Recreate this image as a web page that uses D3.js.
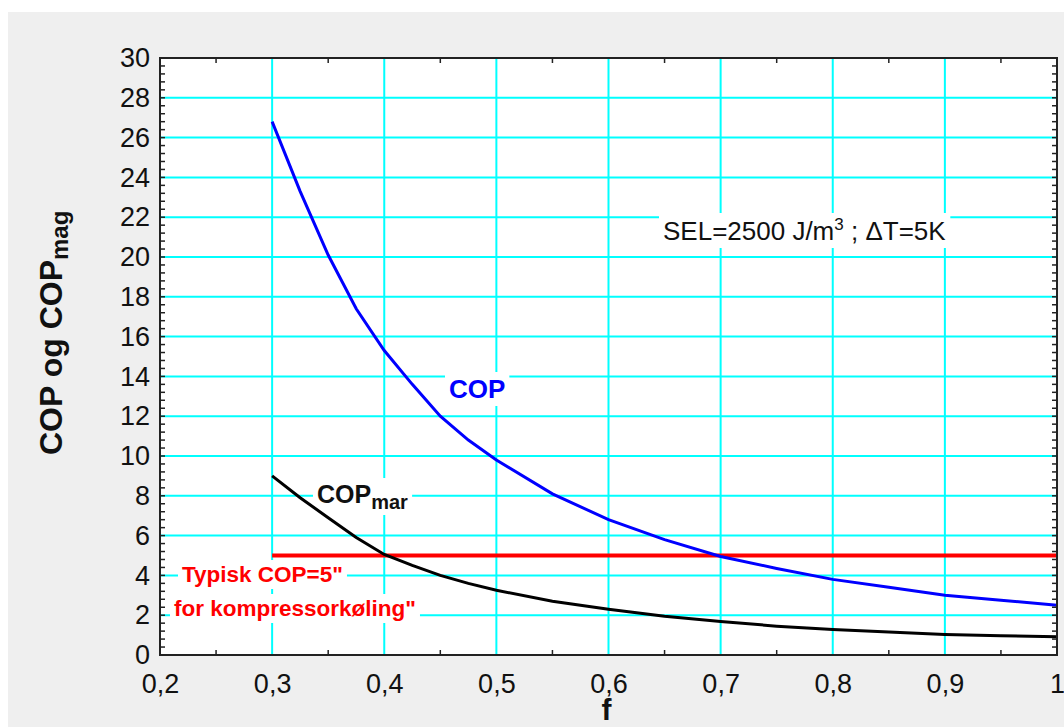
<!DOCTYPE html>
<html><head><meta charset="utf-8">
<script src="https://cdn.jsdelivr.net/npm/d3@7"></script>
<style>
html,body{margin:0;padding:0;background:#fff;}
svg{display:block;font-family:"Liberation Sans",Arial,sans-serif;}
</style></head>
<body>
<svg id="chart" width="1064" height="727"></svg>
<script>
// ---- data ----
const fValues   = [0.30,0.325,0.35,0.375,0.40,0.425,0.45,0.475,0.50,0.55,0.60,0.65,0.70,0.75,0.80,0.85,0.90,0.95,1.00];
const copValues = [26.8,23.3,20.1,17.4,15.3,13.6,12.0,10.8,9.8,8.1,6.8,5.8,4.95,4.35,3.8,3.4,3.0,2.75,2.5];
const copMarValues = [9.0,7.9,6.9,5.9,5.05,4.5,4.0,3.6,3.25,2.7,2.3,1.95,1.68,1.45,1.28,1.15,1.03,0.97,0.92];
const typicalCOP = 5;
const typicalRange = [0.3, 1.0];
const xTicks = [0.2,0.3,0.4,0.5,0.6,0.7,0.8,0.9,1.0];
const xTickLabels = ["0,2","0,3","0,4","0,5","0,6","0,7","0,8","0,9","1"];
const yTicks = [0,2,4,6,8,10,12,14,16,18,20,22,24,26,28,30];

// ---- layout ----
const W = 1064, H = 727;
const L = 160, R = 1057, T = 58, B = 655;
const svg = d3.select("#chart");

const x = d3.scaleLinear().domain([0.2, 1.0]).range([L, R]);
const y = d3.scaleLinear().domain([0, 30]).range([B, T]);

// background
svg.append("rect").attr("x",0).attr("y",0).attr("width",W).attr("height",H).attr("fill","#fff");
svg.append("rect").attr("x",8).attr("y",12).attr("width",W-8).attr("height",H-12).attr("fill","#efefef");
svg.append("rect").attr("x",L).attr("y",T).attr("width",R-L).attr("height",B-T).attr("fill","#fff");

// grid
const grid = svg.append("g");
xTicks.filter(d => d > 0.2 && d < 1.0).forEach(d => {
  grid.append("line").attr("x1",x(d)).attr("x2",x(d)).attr("y1",T).attr("y2",B)
    .attr("stroke","#00ffff").attr("stroke-width",2);
});
yTicks.filter(d => d > 0 && d < 30).forEach(d => {
  grid.append("line").attr("x1",L).attr("x2",R).attr("y1",y(d)).attr("y2",y(d))
    .attr("stroke","#00ffff").attr("stroke-width",2);
});

// label layer (white boxes) and texts
const boxLayer = svg.append("g");
const markLayer = svg.append("g");
const textLayer = svg.append("g");

function label(xp, yp, parts, opts) {
  const t = textLayer.append("text").attr("x", xp).attr("y", yp)
    .attr("fill", opts.color).attr("font-size", opts.size)
    .attr("font-weight", opts.bold ? "bold" : "normal");
  parts.forEach(p => {
    const s = t.append("tspan").text(p.t);
    if (p.size) s.attr("font-size", p.size);
    if (p.dy) s.attr("dy", p.dy);
  });
  const bb = t.node().getBBox();
  const pad = opts.pad || 4;
  boxLayer.append("rect").attr("x", bb.x - pad).attr("y", bb.y - pad/2)
    .attr("width", bb.width + 2*pad).attr("height", bb.height + pad)
    .attr("fill", "#fff");
  return t;
}

label(663, 240, [{t:"SEL=2500 J/m"},{t:"3",size:17,dy:-10},{t:" ; ΔT=5K",dy:10}], {color:"#111",size:26});
label(449, 398, [{t:"COP"}], {color:"#0000ff",size:26,bold:true});
label(317, 503, [{t:"COP"},{t:"mar",size:20,dy:6}], {color:"#111",size:25,bold:true});
label(182, 582, [{t:"Typisk COP=5\""}], {color:"#ff0000",size:22.5,bold:true});
label(174, 616, [{t:"for kompressorkøling\""}], {color:"#ff0000",size:22.5,bold:true});

// marks
markLayer.append("line")
  .attr("x1", x(typicalRange[0])).attr("x2", x(typicalRange[1]))
  .attr("y1", y(typicalCOP)).attr("y2", y(typicalCOP))
  .attr("stroke","#ff0000").attr("stroke-width",4);

const line = d3.line().x(d => x(d[0])).y(d => y(d[1]));
markLayer.append("path").datum(d3.zip(fValues, copValues))
  .attr("d", line).attr("fill","none").attr("stroke","#0000ff").attr("stroke-width",3);
markLayer.append("path").datum(d3.zip(fValues, copMarValues))
  .attr("d", line).attr("fill","none").attr("stroke","#000").attr("stroke-width",3);

// frame
svg.append("rect").attr("x",L).attr("y",T).attr("width",R-L).attr("height",B-T)
  .attr("fill","none").attr("stroke","#222").attr("stroke-width",2);

// minor ticks on left/right (every 0.4)
const yMinor = d3.range(0, 30.001, 0.4);
const tk = svg.append("g").attr("stroke","#222").attr("stroke-width",1.5);
yMinor.forEach(v => {
  tk.append("line").attr("x1",L).attr("x2",L+5).attr("y1",y(v)).attr("y2",y(v));
  tk.append("line").attr("x1",R-5).attr("x2",R).attr("y1",y(v)).attr("y2",y(v));
});
const xMinor = d3.range(0.25, 1.0, 0.1);
xMinor.forEach(v => {
  tk.append("line").attr("x1",x(v)).attr("x2",x(v)).attr("y1",B).attr("y2",B-5);
  tk.append("line").attr("x1",x(v)).attr("x2",x(v)).attr("y1",T).attr("y2",T+5);
});

// axes labels via d3 axes
const yAxis = d3.axisLeft(y).tickValues(yTicks).tickSize(0).tickPadding(10).tickFormat(d3.format("d"));
const gy = svg.append("g").attr("transform",`translate(${L},0)`).call(yAxis);
gy.select(".domain").remove();
gy.selectAll("text").attr("font-size",27).attr("fill","#111").attr("font-family","Liberation Sans, Arial, sans-serif");

const xAxis = d3.axisBottom(x).tickValues(xTicks).tickSize(0).tickPadding(19)
  .tickFormat((d,i) => xTickLabels[i]);
const gx = svg.append("g").attr("transform",`translate(0,${B})`).call(xAxis);
gx.select(".domain").remove();
gx.selectAll("text").attr("font-size",27).attr("fill","#111").attr("font-family","Liberation Sans, Arial, sans-serif");

// axis titles
svg.append("text").attr("x", x(0.6) - 2).attr("y", 720).attr("text-anchor","middle")
  .attr("font-size",30).attr("font-weight","bold").attr("fill","#111").text("f");

const yt = svg.append("text").attr("transform","translate(62,455) rotate(-90)")
  .attr("font-size",32).attr("font-weight","bold").attr("fill","#111");
yt.append("tspan").text("COP og COP");
yt.append("tspan").text("mag").attr("font-size",24).attr("dy",6);
</script>
</body></html>
